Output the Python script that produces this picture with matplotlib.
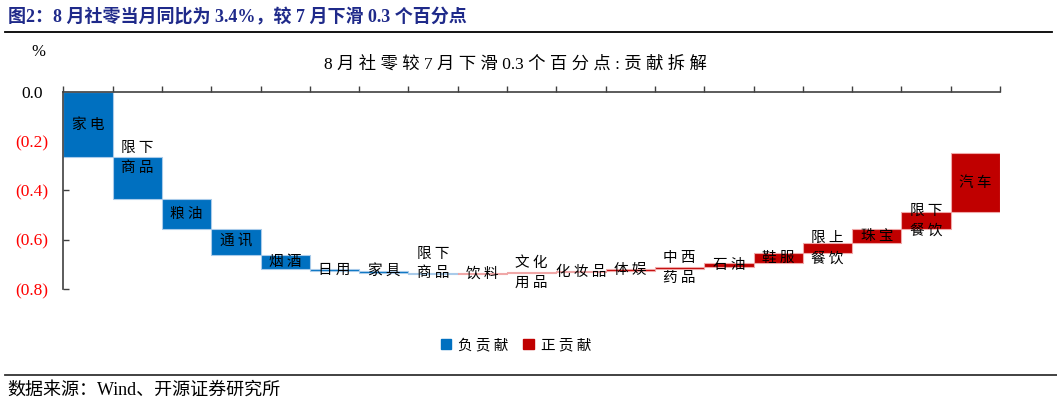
import numpy as np
import matplotlib
matplotlib.use('Agg')
import matplotlib.pyplot as plt
from matplotlib.lines import Line2D
from matplotlib.patches import Patch
from matplotlib.transforms import ScaledTranslation

plt.rcParams['font.family'] = ['Liberation Serif', 'Noto Sans CJK SC']

# 各分项对社零同比变化的贡献（百分点）
categories = ['家电', '限下\n商品', '粮油', '通讯', '烟酒', '日用', '家具', '限下\n商品', '饮料',
              '文化\n用品', '化妆品', '体娱', '中西\n药品', '石油', '鞋服', '限上\n餐饮', '珠宝',
              '限下\n餐饮', '汽车']
contrib = [-0.266, -0.168, -0.121, -0.107, -0.056, -0.008, -0.009, -0.003, 0.001,
           0.005, 0.006, 0.008, 0.009, 0.015, 0.039, 0.040, 0.057, 0.071, 0.237]
y_ticks = [0.0, -0.2, -0.4, -0.6, -0.8]
legend_labels = ['负贡献', '正贡献']

BLUE, BLUE_EDGE = '#0070C0', '#A9CBEA'
RED, RED_EDGE = '#C00000', '#F0A8A8'
W, H = 1057, 405


def spaced(s):
    # 中文字符之间加空格，模仿原图的字距
    out = s[0]
    for a, b in zip(s, s[1:]):
        if a != '\n' and b != '\n' and (ord(a) > 0x2e80 or ord(b) > 0x2e80):
            out += ' '
        out += b
    return out


fig = plt.figure(figsize=(W / 100, H / 100), dpi=100)
ax = fig.add_axes([63.3 / W, 1 - 289 / H, (1000 - 63.3) / W, (289 - 91.7) / H])

vals = np.array(contrib)
ends = np.cumsum(vals)
starts = ends - vals
x = np.arange(len(categories))
colors = [BLUE if v < 0 else RED for v in vals]
edges = [BLUE_EDGE if v < 0 else RED_EDGE for v in vals]
ax.bar(x, vals, bottom=starts, width=1.0, color=colors, edgecolor=edges, linewidth=0.8, zorder=2)

# 标签放在柱子中间，两处手动上移
shift = {1: 0.08, 7: 0.04}
for i, lab in enumerate(categories):
    yc = (starts[i] + ends[i]) / 2 + shift.get(i, 0)
    ax.text(x[i], yc, spaced(lab), ha='center', va='center', fontsize=10.5, linespacing=1.55,
            family=['Noto Sans CJK SC'], zorder=3)

ax.set_xlim(-0.5, len(categories) - 0.5)
ax.set_ylim(-0.8, 0)
for s in ['bottom', 'right']:
    ax.spines[s].set_visible(False)
for s in ['top', 'left']:
    ax.spines[s].set_color('#404040')
    ax.spines[s].set_linewidth(1.2)

ax.xaxis.tick_top()
ax.set_xticks(np.arange(-0.5, len(categories), 1))
ax.tick_params(axis='x', direction='out', length=4, color='#404040', labeltop=False, width=1)
ax.set_yticks(y_ticks)
ax.set_yticklabels(['0.0' if t == 0 else '(%.1f)' % abs(t) for t in y_ticks])
ax.tick_params(axis='y', direction='in', length=4, color='#404040', labelsize=12.5, pad=11, width=1)
for t, lab in zip(y_ticks, ax.get_yticklabels()):
    if t == 0:
        lab.set_color('black')
        lab.set_transform(lab.get_transform() + ScaledTranslation(-5 / 100, 0, fig.dpi_scale_trans))
    else:
        lab.set_color('#FF0000')

fig.text(515 / W, 1 - 65 / H, spaced('8月社零较7月下滑0.3个百分点:贡献拆解'), ha='center', va='center',
         fontsize=12.5)
fig.text(38 / W, 1 - 52 / H, '%', ha='center', va='center', fontsize=12)

handles = [Patch(color=BLUE), Patch(color=RED)]
fig.legend(handles, [spaced(s) for s in legend_labels], loc='center',
           bbox_to_anchor=(516 / W, 1 - 345 / H), ncol=2, frameon=False,
           handlelength=0.7, handleheight=0.7, handletextpad=0.5, columnspacing=1.0,
           prop={'family': ['Noto Sans CJK SC'], 'size': 10.5})

# 页眉与页脚
fig.text(8 / W, 1 - 17 / H, '图2：8 月社零当月同比为 3.4%，较 7 月下滑 0.3 个百分点',
         ha='left', va='center', fontsize=13, fontweight='bold', color='#1F2A8A')
fig.add_artist(Line2D([5 / W, 1052 / W], [1 - 31.7 / H] * 2, color='black', lw=1.3))
fig.add_artist(Line2D([5 / W, 1057 / W], [1 - 375 / H] * 2, color='#333333', lw=1.3))
fig.text(7 / W, 1 - 390 / H, '数据来源：Wind、开源证券研究所', ha='left', va='center', fontsize=13)

fig.savefig('out.png', dpi=100)
